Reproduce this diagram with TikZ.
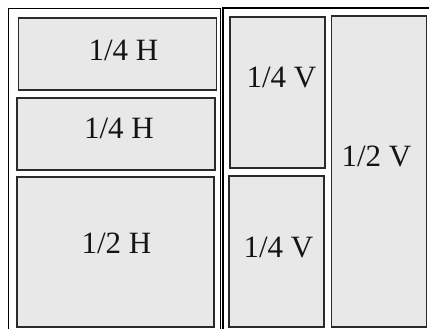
\documentclass[tikz,border=0pt]{standalone}
\usepackage{fontspec}
\setmainfont{Liberation Serif}
\usepackage{xcolor}
\definecolor{boxgray}{HTML}{E8E8E8}
\definecolor{edgegray}{HTML}{2A2A2A}

\begin{document}
\begin{tikzpicture}[x=1pt,y=-1pt,
  part/.style={draw=edgegray,line width=1.3pt,fill=boxgray,inner sep=0pt},
  tag/.style={anchor=base,inner sep=0pt,font=\fontsize{31}{36}\selectfont,text=black!92}]
\useasboundingbox (0,0) rectangle (429,329);
\clip (0,0) rectangle (429,329);
% outer frame, two panels
\draw[line width=1pt] (8.5,340) -- (8.5,8.5) -- (220,8.5) -- (220,340);
\draw[line width=2pt] (222.5,340) -- (222.5,8.5) -- (440,8.5);
% left panel
\node[part,minimum width=198pt,minimum height=72pt] (h1) at (117.5,54) {};
\node[part,minimum width=198pt,minimum height=72pt] (h2) at (116,134) {};
\node[part,minimum width=197pt,minimum height=150pt] (h3) at (115.5,252) {};
\node[tag] (h1t) at (123.5,61) {1/4 H};
\node[tag] (h2t) at (119,139) {1/4 H};
\node[tag] (h3t) at (116.5,253) {1/2 H};
% right panel
\node[part,minimum width=95pt,minimum height=151pt] (v1) at (277.5,92.5) {};
\node[part,minimum width=95pt,minimum height=151pt] (v2) at (276.5,251.5) {};
\node[part,minimum width=95pt,minimum height=311pt] (v3) at (379,171.5) {};
\node[tag] (v1t) at (281.5,88) {1/4 V};
\node[tag] (v2t) at (278.5,257) {1/4 V};
\node[tag] (v3t) at (376.5,167) {1/2 V};
\end{tikzpicture}
\end{document}
